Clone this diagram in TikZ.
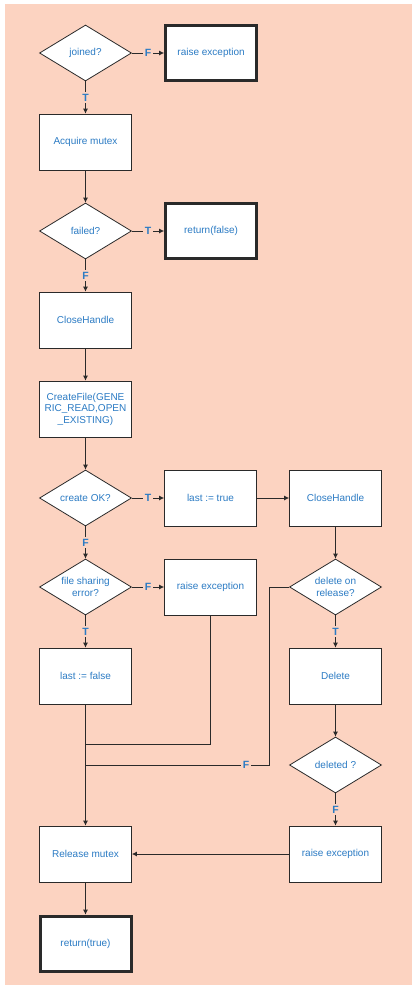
\documentclass[tikz,border=0pt]{standalone}
\usepackage{fontspec}
\setmainfont{Liberation Sans}
\usepackage{xcolor}
\definecolor{peach}{HTML}{FCD3C1}
\definecolor{textblue}{HTML}{2B7BC4}
\definecolor{edgegray}{HTML}{2A2A2A}
\usetikzlibrary{arrows.meta,positioning,shapes.geometric,calc}

\begin{document}
\begin{tikzpicture}[
  x=1pt,y=1pt,
  node distance=32.2pt,
  proc/.style={draw=edgegray,line width=0.8pt,fill=white,align=center,minimum width=92pt,minimum height=56pt,inner sep=1pt,font=\fontsize{10}{11.5}\selectfont,text=textblue},
  stop/.style={proc,line width=3pt,minimum width=91pt,minimum height=55pt},
  test/.style={diamond,shape aspect=1.64,draw=edgegray,line width=0.8pt,fill=white,align=center,minimum width=92pt,minimum height=56pt,inner sep=-3pt,font=\fontsize{10}{11.5}\selectfont,text=textblue},
  arrow/.style={-{Latex[length=5pt,width=5pt]},line width=0.8pt,draw=edgegray},
  line/.style={line width=0.8pt,draw=edgegray},
  lbl/.style={fill=peach,inner sep=1.5pt,font=\fontsize{10.5}{11}\selectfont\bfseries,text=textblue}
]
\useasboundingbox (0,0) rectangle (412,-988);
\fill[peach] (5,-4) rectangle (412,-985);

\node[test] (jn) at (85.5,-53) {joined?};
\node[stop,right=of jn] (re1) {raise exception};
\node[proc,below=of jn] (am) {Acquire mutex};
\node[test,below=of am] (fd) {failed?};
\node[stop,right=of fd] (rf) {return(false)};
\node[proc,below=of fd] (ch1) {CloseHandle};
\node[proc,below=of ch1] (cf) {CreateFile(GENE\\RIC\_READ,OPEN\\\_EXISTING)};
\node[test,below=of cf] (ok) {create OK?};
\node[proc,right=of ok] (lt) {last := true};
\node[proc,right=of lt] (ch2) {CloseHandle};
\node[test,below=of ok] (fs) {file sharing\\error?};
\node[proc,right=of fs] (re2) {raise exception};
\node[test,below=of ch2] (dr) {delete on\\release?};
\node[proc,below=of fs] (lf) {last := false};
\node[proc,below=of dr] (dl) {Delete};
\node[test,below=of dl] (dd) {deleted ?};
\node[proc,below=of dd] (re3) {raise exception};
\node[proc] (rm) at (lf |- re3) {Release mutex};
\node[stop,below=of rm] (rt) {return(true)};

\coordinate (m1) at ($(lf.south)+(0,-40)$);
\coordinate (m2) at (lf.south |- dd);

\draw[arrow] (jn) -- node[lbl]{F} (re1);
\draw[arrow] (jn) -- node[lbl]{T} (am);
\draw[arrow] (am) -- (fd);
\draw[arrow] (fd) -- node[lbl]{T} (rf);
\draw[arrow] (fd) -- node[lbl]{F} (ch1);
\draw[arrow] (ch1) -- (cf);
\draw[arrow] (cf) -- (ok);
\draw[arrow] (ok) -- node[lbl]{T} (lt);
\draw[arrow] (ok) -- node[lbl]{F} (fs);
\draw[arrow] (lt) -- (ch2);
\draw[arrow] (ch2) -- (dr);
\draw[arrow] (fs) -- node[lbl]{F} (re2);
\draw[arrow] (fs) -- node[lbl]{T} (lf);
\draw[arrow] (dr) -- node[lbl]{T} (dl);
\draw[arrow] (dl) -- (dd);
\draw[arrow] (dd) -- node[lbl]{F} (re3);
\draw[line] (re2.south) |- (m1);
\draw[line] (dr.west) -- ++(-20,0) |- node[lbl,pos=0.5625]{F} (m2);
\draw[arrow] (lf) -- (rm);
\draw[arrow] (re3) -- (rm);
\draw[arrow] (rm) -- (rt);
\end{tikzpicture}
\end{document}
